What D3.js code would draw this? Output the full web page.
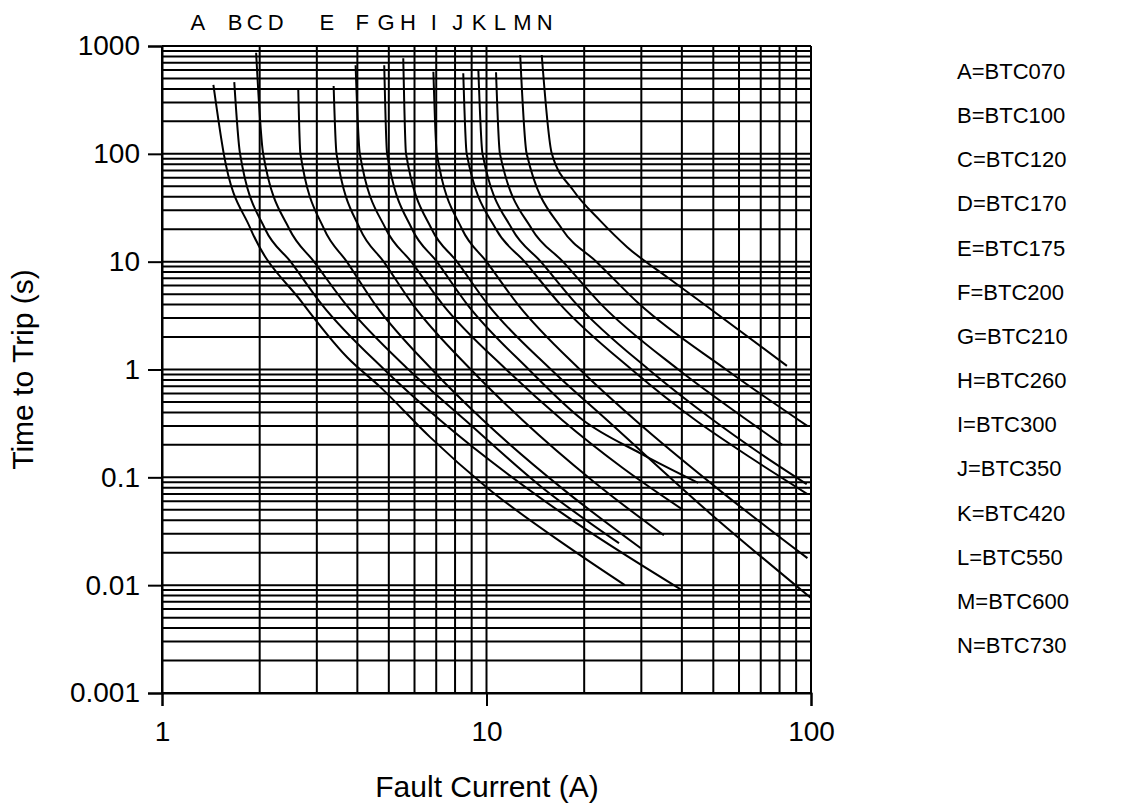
<!DOCTYPE html>
<html>
<head>
<meta charset="utf-8">
<script src="https://cdn.jsdelivr.net/npm/d3@7"></script>
<style>
  body { margin: 0; background: #fff; }
  text { font-family: "Liberation Sans", Arial, sans-serif; fill: #000; }
</style>
</head>
<body>
<svg width="1143" height="805"></svg>
<script>
//data
const letters = ['A','B','C','D','E','F','G','H','I','J','K','L','M','N'];
const parts = ['BTC070','BTC100','BTC120','BTC170','BTC175','BTC200','BTC210',
               'BTC260','BTC300','BTC350','BTC420','BTC550','BTC600','BTC730'];
// current (A) under each letter at the top of the chart
const letterCurrent = [1.29, 1.68, 1.93, 2.24, 3.22, 4.14, 4.90, 5.73, 6.88, 8.16, 9.49, 11.0, 12.9, 15.1];
const yTicks = [1000, 100, 10, 1, 0.1, 0.01, 0.001];
const yTickLabels = ['1000', '100', '10', '1', '0.1', '0.01', '0.001'];
const xTicks = [1, 10, 100];
const xTickLabels = ['1', '10', '100'];

// [current A, time s]
const curveA = [[1.44,435],[1.55,100],[1.87,20.5],[2.70,4.2],[3.72,1.3],[4.70,0.69],[6.70,0.236],[10.0,0.081],[18.5,0.021],[26.7,0.010]];
const curveB = [[1.67,463],[1.74,100],[2.08,20],[2.49,10],[3.11,4],[4.84,1],[7.19,0.34],[17.0,0.047],[40,0.009]];
const curveC = [[1.95,867],[2.05,100],[2.47,20],[2.94,10],[3.69,4],[5.75,1],[8.59,0.34],[14.8,0.081],[25.6,0.0245]];
const curveD = [[2.63,391],[2.67,100],[3.16,20],[3.71,10],[4.54,4],[6.79,1],[9.75,0.34],[17.1,0.079],[29.9,0.022]];
const curveE = [[3.38,425],[3.45,100],[4.08,20],[4.82,10],[5.93,4],[8.95,1],[12.9,0.34],[21.4,0.091],[35.2,0.029]];
const curveF = [[3.95,662],[4.07,100],[4.90,20],[5.86,10],[7.33,4],[11.5,1],[17.1,0.34],[26.3,0.122],[40.3,0.05]];
const curveG = [[4.84,662],[4.94,100],[5.90,20],[7.03,10],[8.73,4],[13.5,1],[19.8,0.34],[29.8,0.167],[44.9,0.089]];
const curveH = [[5.54,769],[5.65,100],[6.78,20],[8.11,10],[10.1,4],[15.8,1],[23.5,0.34],[48.5,0.0473],[100,0.0076]];
const curveI = [[6.86,578],[7.03,100],[8.41,20],[10.0,10],[12.5,4],[19.4,1],[28.7,0.34],[52.8,0.0741],[97.5,0.0178]];
const curveJ = [[8.48,558],[8.69,100],[10.7,20],[13.1,10],[16.9,4],[28.0,1],[44.0,0.34],[65.4,0.151],[97.5,0.070]];
const curveK = [[9.44,590],[9.72,100],[12.0,20],[14.7,10],[19.0,4],[31.6,1],[49.9,0.34],[69.4,0.168],[97,0.0865]];
const curveL = [[10.7,570],[11.0,100],[13.8,20],[17.2,10],[22.6,4],[39.0,1],[63.5,0.34],[81.5,0.20]];
const curveM = [[12.7,825],[13.3,100],[17.1,20],[21.8,10],[29.7,4],[54.7,1],[97.4,0.30]];
const curveN = [[14.8,825],[15.9,100],[18.5,46],[22.4,24],[27.1,13.7],[36.0,7.2],[45.5,4.3],[84.3,1.08]];
const curves = [curveA, curveB, curveC, curveD, curveE, curveF, curveG,
                curveH, curveI, curveJ, curveK, curveL, curveM, curveN];

//set up
const svg = d3.select('svg');
const x = d3.scaleLog().domain([1, 100]).range([162, 811]);
const y = d3.scaleLog().domain([0.001, 1000]).range([693, 46]);

// grid values 1..9 in every decade
const xGrid = d3.range(1, 10).concat(d3.range(10, 101, 10));
const yGrid = [];
[0.001, 0.01, 0.1, 1, 10, 100].forEach(d => {
  for (let k = 1; k < 10; k++) yGrid.push(+(d * k).toPrecision(3));
});
yGrid.push(1000);

const grid = svg.append('g').attr('stroke', '#000').attr('stroke-width', 2);
grid.selectAll('line.v')
  .data(xGrid)
  .join('line')
  .attr('class', 'v')
  .attr('x1', d => x(d)).attr('x2', d => x(d))
  .attr('y1', y(1000)).attr('y2', y(0.001));
grid.selectAll('line.h')
  .data(yGrid)
  .join('line')
  .attr('class', 'h')
  .attr('x1', x(1)).attr('x2', x(100))
  .attr('y1', d => y(d)).attr('y2', d => y(d));

//axes
const yAxis = svg.append('g')
  .attr('transform', `translate(${x(1)},0)`)
  .call(d3.axisLeft(y).tickValues(yTicks).tickSize(14).tickPadding(8)
    .tickFormat((d, i) => yTickLabels[i]));
const xAxis = svg.append('g')
  .attr('transform', `translate(0,${y(0.001)})`)
  .call(d3.axisBottom(x).tickValues(xTicks).tickSize(13).tickPadding(15)
    .tickFormat((d, i) => xTickLabels[i]));
[yAxis, xAxis].forEach(g => {
  g.select('.domain').attr('stroke', '#000').attr('stroke-width', 2);
  g.selectAll('.tick line').attr('stroke', '#000').attr('stroke-width', 2);
  g.selectAll('.tick text').attr('font-size', 28).attr('font-family', '"Liberation Sans", Arial, sans-serif').attr('fill', '#000');
});

//curves
const line = d3.line()
  .x(d => x(d[0]))
  .y(d => y(d[1]))
  .curve(d3.curveMonotoneX);
svg.append('g')
  .selectAll('path')
  .data(curves)
  .join('path')
  .attr('d', line)
  .attr('fill', 'none')
  .attr('stroke', '#000')
  .attr('stroke-width', 2);

//letters on top
svg.append('g')
  .selectAll('text')
  .data(letters)
  .join('text')
  .attr('x', (d, i) => x(letterCurrent[i]))
  .attr('y', 30)
  .attr('text-anchor', 'middle')
  .attr('font-size', 22)
  .text(d => d);

//legend
svg.append('g')
  .selectAll('text')
  .data(letters)
  .join('text')
  .attr('x', 957)
  .attr('y', (d, i) => 79 + i * 44.15)
  .attr('font-size', 22)
  .text((d, i) => d + '=' + parts[i]);

//titles
svg.append('text')
  .attr('x', 487)
  .attr('y', 797)
  .attr('text-anchor', 'middle')
  .attr('font-size', 30)
  .text('Fault Current (A)');
svg.append('text')
  .attr('transform', `translate(33,${(y(1000) + y(0.001)) / 2}) rotate(-90)`)
  .attr('text-anchor', 'middle')
  .attr('font-size', 30)
  .text('Time to Trip (s)');
</script>
</body>
</html>
